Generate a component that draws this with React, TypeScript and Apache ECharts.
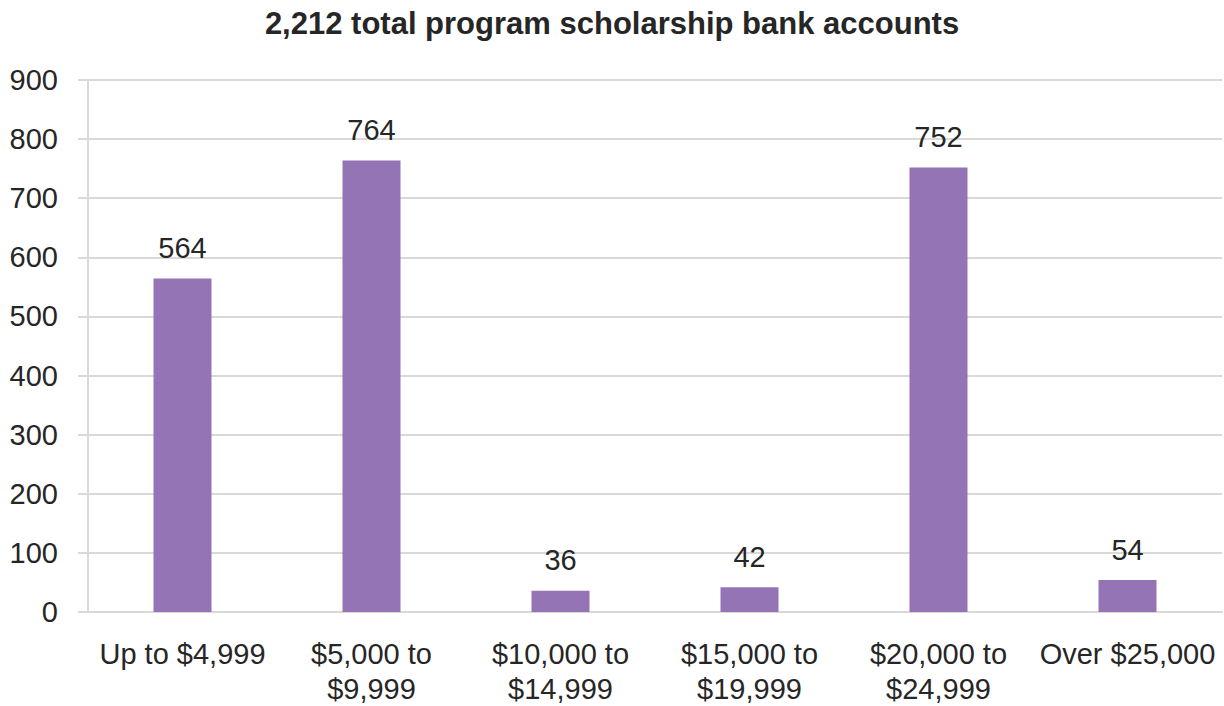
import React, { useEffect, useRef } from "react";
import * as echarts from "echarts";

const categories = [
  "Up to $4,999",
  "$5,000 to\n$9,999",
  "$10,000 to\n$14,999",
  "$15,000 to\n$19,999",
  "$20,000 to\n$24,999",
  "Over $25,000",
];
const accounts = [564, 764, 36, 42, 752, 54];
const titleText = "2,212 total program scholarship bank accounts";

const FONT = "'Liberation Sans', Arial, Helvetica, sans-serif";
const GRID = "#d9d9d9";
const TEXT = "#262626";

export default function App() {
  const ref = useRef<HTMLDivElement>(null);
  useEffect(() => {
    document.body.style.margin = "0";
    if (!ref.current) return;
    const chart = echarts.init(ref.current, undefined, { renderer: "svg" });
    chart.setOption({
      animation: false,
      title: {
        text: titleText,
        left: "center",
        top: 3,
        textStyle: { fontFamily: FONT, fontSize: 31, fontWeight: "bold", color: TEXT },
      },
      grid: { left: 88, right: 2, top: 80, bottom: 93, containLabel: false },
      xAxis: {
        type: "category",
        data: categories,
        axisLine: { show: true, lineStyle: { color: GRID, width: 2 } },
        axisTick: { show: false },
        axisLabel: {
          fontFamily: FONT,
          fontSize: 29,
          color: TEXT,
          margin: 24,
          lineHeight: 35,
          interval: 0,
        },
      },
      yAxis: {
        type: "value",
        min: 0,
        max: 900,
        interval: 100,
        axisLine: { show: true, lineStyle: { color: GRID, width: 2 } },
        axisTick: { show: true, length: 10, lineStyle: { color: GRID, width: 2 } },
        splitLine: { show: true, lineStyle: { color: GRID, width: 2 } },
        axisLabel: { fontFamily: FONT, fontSize: 29, color: TEXT, margin: 30 },
      },
      series: [
        {
          type: "bar",
          data: accounts,
          barWidth: "30.7%",
          itemStyle: { color: "#9474b4" },
          label: {
            show: true,
            position: "top",
            distance: 16,
            fontFamily: FONT,
            fontSize: 29,
            color: TEXT,
          },
        },
      ],
    });
    return () => chart.dispose();
  }, []);
  return <div ref={ref} style={{ width: 1224, height: 706 }} />;
}
